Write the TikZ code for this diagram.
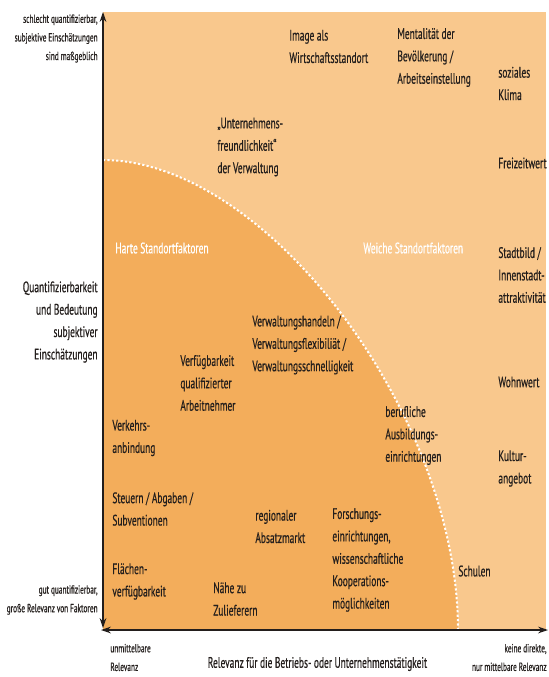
\documentclass[tikz,border=0pt]{standalone}
\usepackage{fontspec}
\setmainfont{PT Sans}[FakeStretch=0.62,FakeBold=0.5]
\usetikzlibrary{arrows.meta}
\definecolor{softbg}{RGB}{249,200,141}
\definecolor{hardbg}{RGB}{243,173,91}
\definecolor{txt}{RGB}{35,30,28}
\begin{document}
\begin{tikzpicture}
           [x=0.5pt,y=-0.5pt,
            factor/.style={anchor=west,inner sep=0pt,align=left,text=txt,
              font=\fontsize{7.6}{11.2}\selectfont},
            group/.style={factor,text=white},
            axlabel/.style={inner sep=0pt,text=txt,font=\fontsize{5.9}{9.3}\selectfont},
            axis/.style={line width=0.6pt,draw=txt,{Stealth[length=5pt,width=3.4pt]}-{Stealth[length=5pt,width=3.4pt]}}]
           \useasboundingbox (0,0) rectangle (549,677);

           \coordinate (O) at (103,630);
           \coordinate (ytop) at (103,12);
           \coordinate (xend) at (548,630);
           \coordinate (hardtop) at (103,160);
           \coordinate (hardend) at (458,630);

           \fill[softbg] (103,12) rectangle (546,630);
           \fill[hardbg] (O) -- (hardtop) .. controls (266,160) and (458,414) .. (hardend) -- cycle;
           \draw[white,line width=1pt,dash pattern=on 1.1pt off 1.1pt] (hardtop) .. controls (266,160) and (458,414) .. (hardend);

           \draw[axis] ([yshift=1pt]O) -- (ytop);
           \draw[axis] ([xshift=-1pt]O) -- (xend);

           \node[axlabel,anchor=east,align=right] (top) at (98,38.5)
             {schlecht quantifizierbar,\\subjektive Einschätzungen\\sind maßgeblich};
           \node[factor,anchor=east,align=right] (yaxis) at (98,322)
             {Quantifizierbarkeit\\und Bedeutung\\subjektiver\\Einschätzungen};
           \node[axlabel,anchor=east,align=right] (bottom) at (98,600)
             {gut quantifizierbar,\\große Relevanz von Faktoren};
           \node[axlabel,anchor=west,align=left] (left) at (110,657.5)
             {unmittelbare\\Relevanz};
           \node[factor,anchor=center] (xaxis) at (317.5,664)
             {Relevanz für die Betriebs- oder Unternehmenstätigkeit};
           \node[axlabel,anchor=east,align=right] (right) at (547,657.5)
             {keine direkte,\\nur mittelbare Relevanz};

           \node[group] (hard) at (115,248) {Harte Standortfaktoren};
           \node[group] (soft) at (363,248) {Weiche Standortfaktoren};

           \node[factor] (image) at (289,46.5) {Image als\\Wirtschaftsstandort};
           \node[factor] (mentality) at (397,57.5) {Mentalität der\\Bevölkerung /\\Arbeitseinstellung};
           \node[factor] (climate) at (498,83.5) {soziales\\Klima};
           \node[factor] (friendly) at (217,147) {„Unternehmens-\\freundlichkeit“\\der Verwaltung};
           \node[factor] (leisure) at (498,163) {Freizeitwert};
           \node[factor] (townscape) at (498,275) {Stadtbild /\\Innenstadt-\\attraktivität};
           \node[factor] (admin) at (252,345) {Verwaltungshandeln /\\Verwaltungsflexibiliät /\\Verwaltungsschnelligkeit};
           \node[factor] (workers) at (180,383) {Verfügbarkeit\\qualifizierter\\Arbeitnehmer};
           \node[factor] (living) at (498,382) {Wohnwert};
           \node[factor] (training) at (385,435.5) {berufliche\\Ausbildungs-\\einrichtungen};
           \node[factor] (traffic) at (112,438) {Verkehrs-\\anbindung};
           \node[factor] (culture) at (498,468.5) {Kultur-\\angebot};
           \node[factor] (taxes) at (112,509) {Steuern / Abgaben /\\Subventionen};
           \node[factor] (market) at (255,526.5) {regionaler\\Absatzmarkt};
           \node[factor] (research) at (332,560) {Forschungs-\\einrichtungen,\\wissenschaftliche\\Kooperations-\\möglichkeiten};
           \node[factor] (schools) at (458,571) {Schulen};
           \node[factor] (land) at (112,581.5) {Flächen-\\verfügbarkeit};
           \node[factor] (suppliers) at (213,599) {Nähe zu\\Zulieferern};
         \end{tikzpicture}
\end{document}
